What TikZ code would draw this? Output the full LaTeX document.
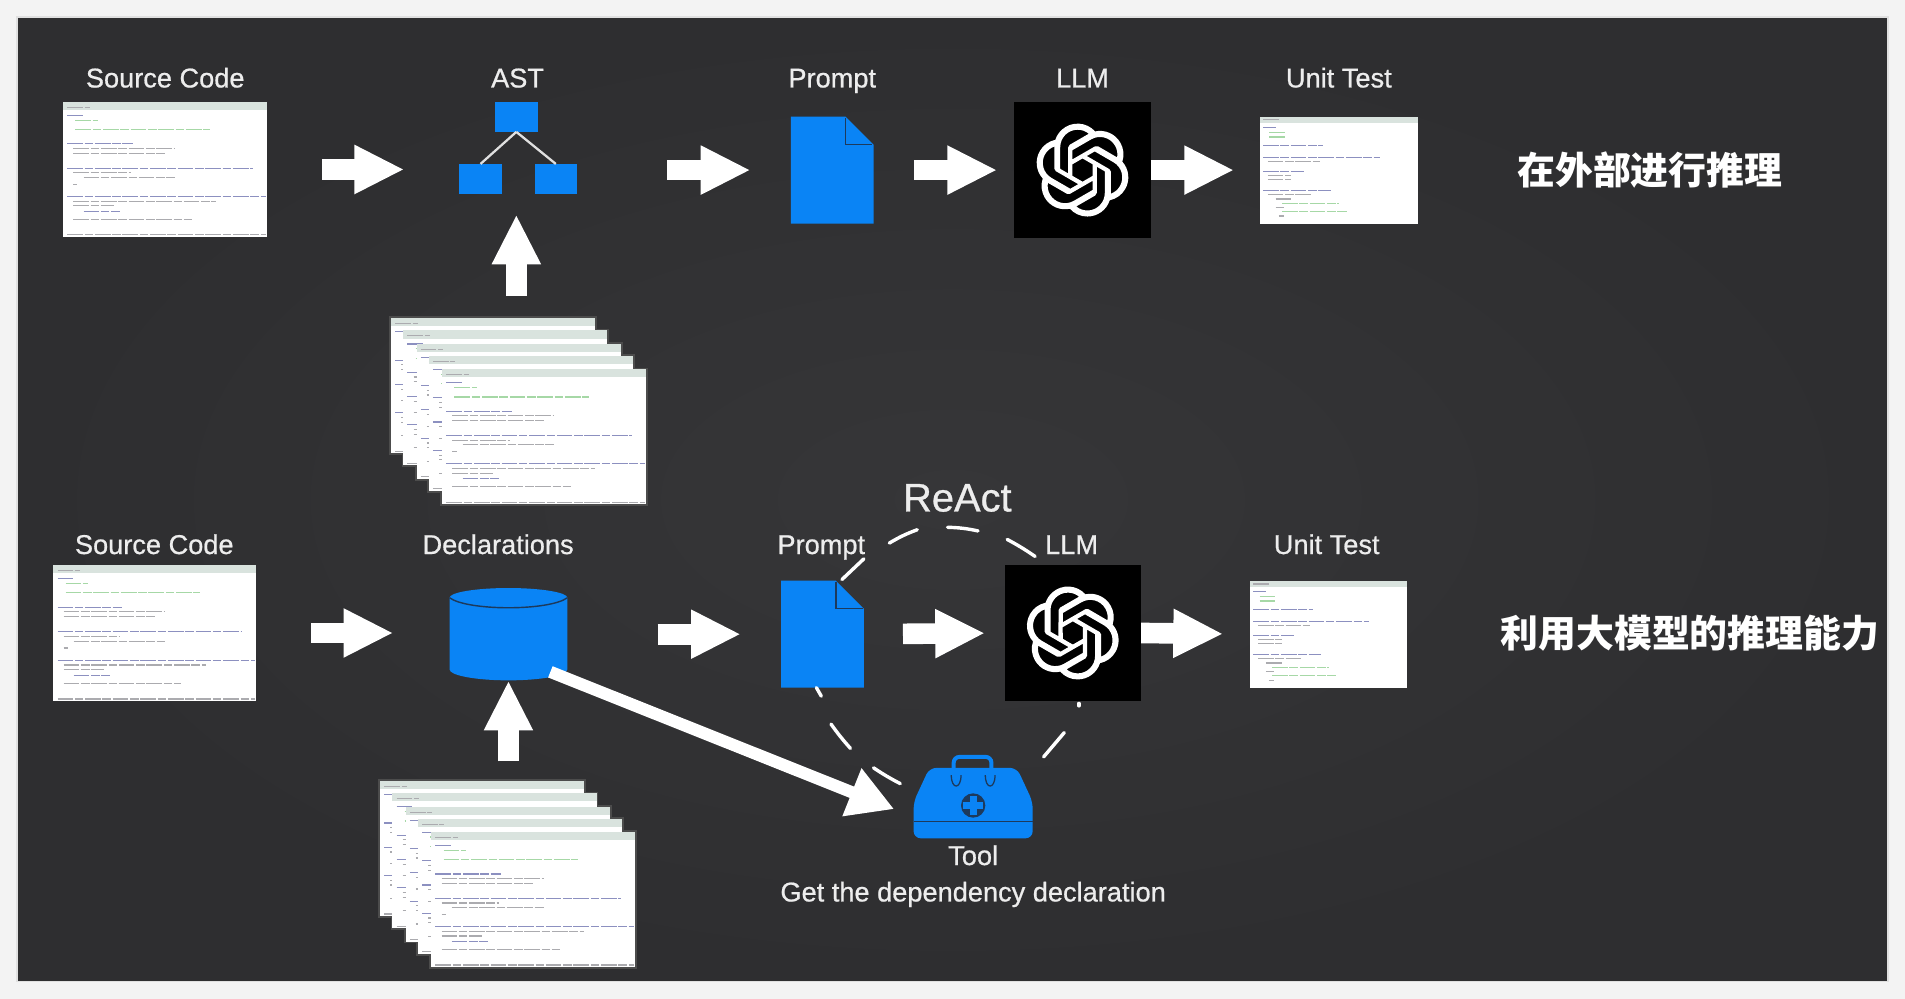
\documentclass[tikz,border=0pt]{standalone}
\usepackage{fontspec}
\setmainfont{Liberation Sans}
\newfontfamily\labfont{Liberation Sans}[FakeBold=0.7]
\newfontfamily\cjk{Noto Sans CJK SC}
\usetikzlibrary{arrows.meta,calc,svg.path}
\definecolor{framebg}{HTML}{2E2E30}
\definecolor{framemid}{HTML}{363638}
\definecolor{pagebg}{HTML}{F3F3F3}
\definecolor{iconblue}{HTML}{0A84F5}
\definecolor{icondark}{HTML}{1D3A5C}
\definecolor{labelc}{HTML}{EDEDED}
\definecolor{headc}{HTML}{D9E3DE}
\definecolor{codeN}{HTML}{8C90C0}
\definecolor{codeG}{HTML}{A6D8A6}
\definecolor{codeD}{HTML}{ABABAF}
\tikzset{
  docbox/.style={rectangle,fill=white,inner sep=0pt},
  bar/.style={line width=.8pt,dash pattern=on 11pt off 1.2pt on 6pt off 1.2pt},
  blockarrow/.style={draw=white,line width=14.5pt,-{Triangle[length=35pt,width=32pt]}},
  thinarrow/.style={draw=white,line width=8.5pt,-{Triangle[length=32pt,width=34pt]}},
  lab/.style={text=labelc,font=\labfont\fontsize{19.1}{22}\selectfont,inner sep=0pt,anchor=base},
  cjklab/.style={text=white,font=\cjk\bfseries\fontsize{26.6}{30}\selectfont,inner sep=0pt},
  bluebox/.style={rectangle,fill=iconblue,inner sep=0pt,minimum width=1.05cm,minimum height=.74cm},
  llmbox/.style={rectangle,fill=black,inner sep=0pt,minimum size=3.36cm},
  looplink/.style={draw=white,line width=2.4pt,line cap=round},
  astlink/.style={draw=black!12,line width=1.6pt},
  ghost/.style={rectangle,inner sep=0pt}
}
\def\srcbars{.04/.02/.13/codeD,.10/.02/.10/codeN,.135/.06/.17/codeG,.205/.06/.72/codeG,.31/.02/.34/codeN,.345/.05/.55/codeD,.38/.05/.50/codeD,.49/.02/.93/codeN,.525/.05/.33/codeD,.56/.10/.55/codeD,.61/.05/.07/codeD,.70/.02/.995/codeN,.735/.05/.75/codeD,.77/.05/.25/codeD,.81/.10/.28/codeN,.87/.05/.63/codeD,.985/.02/.995/codeD}
\def\testbars{.03/.02/.12/codeD,.10/.02/.10/codeN,.15/.06/.16/codeG,.19/.06/.16/codeG,.27/.02/.40/codeN,.38/.02/.76/codeN,.42/.05/.38/codeD,.51/.02/.28/codeN,.55/.05/.20/codeD,.59/.05/.20/codeD,.69/.02/.45/codeN,.73/.05/.33/codeD,.77/.10/.20/codeD,.81/.14/.50/codeG,.85/.10/.15/codeD,.885/.14/.55/codeG,.93/.12/.15/codeD}
% name, x0, y0, w, h, bars
\newcommand\codedoc[6]{%
  \node[docbox,minimum width=#4*0.03cm,minimum height=#5*0.03cm] (#1) at ({#2+#4/2},{#3+#5/2}) {};
  \fill[headc] (#2,#3) rectangle ({#2+#4},{#3+0.06*#5});
  \foreach \yy/\aa/\bb/\cc in #6 {
    \draw[bar,color=\cc] ({#2+\aa*#4},{#3+\yy*#5}) -- ({#2+\bb*#4},{#3+\yy*#5});
  }%
}
% name, x0, y0
\newcommand\promptdoc[3]{%
  \node[ghost,minimum width=2.04cm,minimum height=2.64cm] (#1) at ({#2+34},{#3+44}) {};
  \fill[iconblue] (#2,#3) -- ({#2+45},#3) -- ({#2+68},{#3+23}) -- ({#2+68},{#3+88}) -- (#2,{#3+88}) -- cycle;
  \draw[icondark,line width=1pt] ({#2+45},{#3+1}) -- ({#2+45},{#3+23}) -- ({#2+67},{#3+23});
}
% centre x, y
\newcommand\oailogo[2]{%
  \begin{scope}[shift={(#1,#2)},xscale=2.72,yscale=-2.72,shift={(-12pt,-12pt)}]
  \fill[white] svg {M 22.2819 9.8211 a 5.9847 5.9847 0 0 0 -0.5157 -4.9108 a 6.0462 6.0462 0 0 0 -6.5098 -2.9 A 6.0651 6.0651 0 0 0 4.9807 4.1818 a 5.9847 5.9847 0 0 0 -3.9977 2.9 a 6.0462 6.0462 0 0 0 0.7427 7.0966 a 5.98 5.98 0 0 0 0.511 4.9107 a 6.051 6.051 0 0 0 6.5146 2.9001 A 5.9847 5.9847 0 0 0 13.2599 24 a 6.0557 6.0557 0 0 0 5.7718 -4.2058 a 5.9894 5.9894 0 0 0 3.9977 -2.9001 a 6.0557 6.0557 0 0 0 -0.7475 -7.0729 z
  M 13.2599 22.4292 a 4.4755 4.4755 0 0 1 -2.8764 -1.0408 l 0.1419 -0.0804 l 4.7783 -2.7582 a 0.7948 0.7948 0 0 0 0.3927 -0.6813 v -6.7369 l 2.02 1.1686 l 0.038 0.052 v 5.5826 a 4.504 4.504 0 0 1 -4.4945 4.4944 z
  M 3.5992 18.3038 a 4.4708 4.4708 0 0 1 -0.5346 -3.0137 l 0.142 0.0852 l 4.783 2.7582 a 0.7712 0.7712 0 0 0 0.7806 0 l 5.8428 -3.3685 v 2.3324 l -0.0332 0.0615 L 9.74 19.9502 a 4.4992 4.4992 0 0 1 -6.1408 -1.6464 z
  M 2.3408 7.8956 a 4.485 4.485 0 0 1 2.3655 -1.9728 V 11.6 a 0.7664 0.7664 0 0 0 0.3879 0.6765 l 5.8144 3.3543 l -2.0201 1.1685 l -0.071 0 l -4.8303 -2.7865 A 4.504 4.504 0 0 1 2.3408 7.872 z
  M 18.9371 11.7514 L 13.1038 8.364 L 15.1192 7.2 l 0.071 0 l 4.8303 2.7913 a 4.4944 4.4944 0 0 1 -0.6765 8.1042 v -5.6772 a 0.79 0.79 0 0 0 -0.407 -0.667 z
  M 20.9478 8.7283 l -0.142 -0.0852 l -4.7735 -2.7818 a 0.7759 0.7759 0 0 0 -0.7854 0 L 9.409 9.2297 V 6.8974 l 0.0284 -0.0615 l 4.8303 -2.7866 a 4.4992 4.4992 0 0 1 6.6802 4.66 z
  M 8.3065 12.863 l -2.02 -1.1638 l -0.038 -0.0567 V 6.0742 a 4.4992 4.4992 0 0 1 7.3757 -3.4537 l -0.142 0.0805 L 8.704 5.459 a 0.7948 0.7948 0 0 0 -0.3927 0.6813 z
  M 9.4041 10.4976 l 2.602 -1.4998 l 2.6069 1.4998 v 2.9994 l -2.5974 1.4997 l -2.6067 -1.4997 z};
  \end{scope}%
}
\newcommand\stackdocs[3]{% prefix, x0, y0
  \foreach \off in {0,10,21,31,42} {
    \fill[black!70] ({#2+\off-1.5},{#3+\off-1.5}) rectangle ({#2+\off+169.5},{#3+\off+112.5});
  }
  \codedoc{#1a}{#2}{#3}{168}{111}{\srcbars}
  \codedoc{#1b}{\numexpr#2+10\relax}{\numexpr#3+10\relax}{168}{111}{\srcbars}
  \codedoc{#1c}{\numexpr#2+21\relax}{\numexpr#3+21\relax}{168}{111}{\srcbars}
  \codedoc{#1d}{\numexpr#2+31\relax}{\numexpr#3+31\relax}{168}{111}{\srcbars}
  \codedoc{#1e}{\numexpr#2+42\relax}{\numexpr#3+42\relax}{168}{111}{\srcbars}
}
\begin{document}
\begin{tikzpicture}[x=0.03cm,y=-0.03cm]
\useasboundingbox (0,0) rectangle (1568,822);
\fill[pagebg] (0,0) rectangle (1568,822);
\fill[black!12] (13.5,13.5) rectangle (1554.5,808.5);
\shade[inner color=framemid,outer color=framebg] (15,15) rectangle (1553,807);

% ---------- upper row ----------
\node[lab] (t1src) at (136,72) {Source Code};
\node[lab] (t1ast) at (426,72) {AST};
\node[lab] (t1pr) at (685,72) {Prompt};
\node[lab] (t1llm) at (891,72) {LLM};
\node[lab] (t1ut) at (1102,72) {Unit Test};
\codedoc{doc1}{52}{84}{168}{111}{\srcbars}
\node[bluebox] (astTop) at (425,96) {};
\node[bluebox] (astL) at (395.5,147.5) {};
\node[bluebox] (astR) at (457.5,147.5) {};
\draw[astlink] (astTop.south) -- (astL.north);
\draw[astlink] (astTop.south) -- (astR.north);
\stackdocs{sa}{322}{262}
\promptdoc{prompt1}{651}{96}
\node[llmbox] (llm1) at (891,140) {};
\oailogo{891}{140}
\codedoc{ut1}{1037}{96}{130}{88}{\testbars}
\node[cjklab] (note1) at (1358,140) {在外部进行推理};

\draw[blockarrow,shorten <=45*0.03cm,shorten >=45*0.03cm] (doc1.east) -- (doc1.east -| astL.west);
\draw[blockarrow,shorten <=74*0.03cm,shorten >=33*0.03cm] (prompt1.west -| astR.east) -- (prompt1.west);
\draw[blockarrow,shorten <=33*0.03cm,shorten >=14*0.03cm] (prompt1.east) -- (llm1.west);
\draw[blockarrow,shorten >=21*0.03cm] (llm1.east) -- (ut1.west);
\draw[blockarrow,shorten <=18*0.03cm,shorten >=68*0.03cm] (astTop |- saa.north) -- (astTop.south);

% ---------- lower row ----------
\node[lab] (t2src) at (127,456) {Source Code};
\node[lab] (t2dec) at (410,456) {Declarations};
\node[lab] (t2pr) at (676,456) {Prompt};
\node[lab] (t2llm) at (882,456) {LLM};
\node[lab] (t2ut) at (1092,456) {Unit Test};
\node[text=labelc,font=\labfont\fontsize{28}{32}\selectfont,inner sep=0pt,anchor=base] (react) at (788,421) {ReAct};
\codedoc{doc2}{44}{465}{167}{112}{\srcbars}
\node[ghost,minimum width=2.91cm,minimum height=2.28cm] (decl) at (418.5,522) {};
\fill[iconblue] (370,492) .. controls (370,487.6) and (391.8,484) .. (418.5,484) .. controls (445.2,484) and (467,487.6) .. (467,492) -- (467,551) .. controls (467,556) and (445,560) .. (418.5,560) .. controls (392,560) and (370,556) .. (370,551) -- cycle;
\draw[icondark,line width=1pt] (370,492) .. controls (385,503) and (452,503) .. (467,492);
\stackdocs{sb}{313}{643}
\promptdoc{prompt2}{643}{478}
\node[llmbox] (llm2) at (883,521) {};
\oailogo{883}{521}
\codedoc{ut2}{1029}{478}{129}{88}{\testbars}
\node[cjklab] (note2) at (1391,521) {利用大模型的推理能力};

% tool icon
\node[ghost,minimum width=2.94cm,minimum height=2.07cm] (tool) at (801,655.5) {};
\draw[iconblue,line width=2.8pt,rounded corners=4pt] (785,634) -- (785,623) -- (816,623) -- (816,634);
\fill[iconblue,rounded corners=5pt] (765,632) -- (837,632) -- (850,660) -- (850,690) -- (752,690) -- (752,660) -- cycle;
\draw[icondark,line width=.9pt] (783,638) .. controls (783,650) and (791,650) .. (791,638);
\draw[icondark,line width=.9pt] (811,638) .. controls (811,650) and (819,650) .. (819,638);
\fill[icondark] (801,663) circle[radius=10];
\fill[iconblue] (798,655) rectangle (804,671);
\fill[iconblue] (793,660) rectangle (809,666);
\draw[icondark,line width=.9pt] (752,676) -- (850,676);
\node[lab] (t2tool) at (801,712) {Tool};
\node[lab] (t2get) at (801,742) {Get the dependency declaration};

% block arrows
\draw[blockarrow,shorten <=45*0.03cm,shorten >=46*0.03cm] (doc2.east) -- (doc2.east -| decl.west);
\draw[blockarrow,shorten <=74*0.03cm,shorten >=33*0.03cm] (prompt2.west -| decl.east) -- (prompt2.west);
\draw[blockarrow,shorten <=32*0.03cm,shorten >=16*0.03cm] (prompt2.east) -- (llm2.west);
\draw[blockarrow,shorten >=22*0.03cm] (llm2.east) -- (ut2.west);
\draw[blockarrow,shorten <=16*0.03cm] (decl |- sba.north) -- (decl.south);
\coordinate (declOut) at (453,553);
\coordinate (toolIn) at (736,666);
\draw[thinarrow] (declOut) -- (toolIn);

% ReAct loop
\coordinate (p1) at (693,477); \coordinate (p2) at (711,460);
\coordinate (p3) at (732,447); \coordinate (p4) at (755,436);
\coordinate (p5) at (780,434); \coordinate (p6) at (805,437);
\coordinate (p7) at (829,444); \coordinate (p8) at (852,458);
\coordinate (p9) at (888,579); \coordinate (p10) at (888,581);
\coordinate (p11) at (876,603); \coordinate (p12) at (859,623);
\coordinate (p13) at (741,645); \coordinate (p14) at (719,632);
\coordinate (p15) at (700,616); \coordinate (p16) at (684,596);
\coordinate (p17) at (676,573); \coordinate (p18) at (672,566);
\draw[looplink] (p1) -- (p2);
\draw[looplink] (p3) to[bend left=5] (p4);
\draw[looplink] (p5) to[bend left=5] (p6);
\draw[looplink] (p7) to[bend left=3] (p8);
\draw[looplink] (p9) -- (p10);
\draw[looplink] (p11) -- (p12);
\draw[looplink] (p13) to[bend left=3] (p14);
\draw[looplink] (p15) to[bend left=3] (p16);
\draw[looplink] (p17) -- (p18);
\end{tikzpicture}
\end{document}
